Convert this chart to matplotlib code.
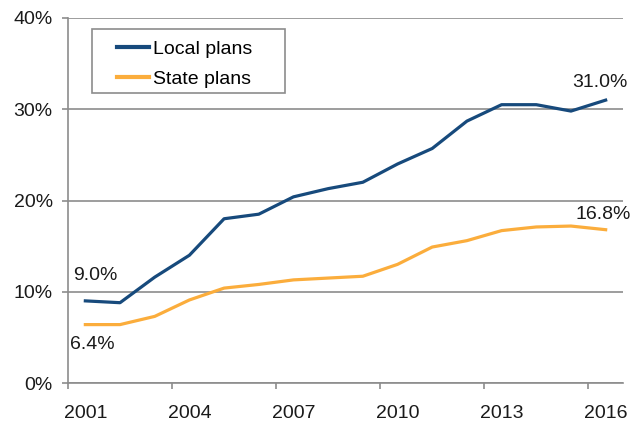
import numpy as np
import matplotlib.pyplot as plt
from matplotlib.patches import Rectangle
from matplotlib.ticker import FixedLocator, NullFormatter

years = list(range(2001, 2017))
local_plans = [9.0, 8.8, 11.6, 14.0, 18.0, 18.5, 20.4, 21.3, 22.0, 24.0, 25.7, 28.7, 30.5, 30.5, 29.8, 31.0]
state_plans = [6.4, 6.4, 7.3, 9.1, 10.4, 10.8, 11.3, 11.5, 11.7, 13.0, 14.9, 15.6, 16.7, 17.1, 17.2, 16.8]
y_ticks = [0, 10, 20, 30, 40]
label_every = 3

blue = '#174a7c'
orange = '#fbad3c'
grid_gray = '#8c8c8c'
text_col = '#1a1a1a'

plt.rcParams['font.family'] = ['Liberation Sans', 'DejaVu Sans']
fs = 14

fig = plt.figure(figsize=(6.44, 4.24), dpi=100)
W, H = 555, 365
ax = fig.add_axes([68/644, 41/424, W/644, H/424])

x = np.arange(len(years))
ax.plot(x, local_plans, color=blue, lw=2.3, label='Local plans')
ax.plot(x, state_plans, color=orange, lw=2.3, label='State plans')

ax.set_xlim(-0.5, len(years) - 0.5)
ax.set_ylim(0, 40)

# category axis: tick marks on boundaries, labels on centres
ax.xaxis.set_major_locator(FixedLocator(np.arange(0, len(years), label_every) - 0.5))
ax.xaxis.set_major_formatter(NullFormatter())
ax.xaxis.set_minor_locator(FixedLocator(np.arange(0, len(years), label_every)))
ax.set_xticklabels([str(y) for y in years[::label_every]], minor=True)
ax.tick_params(axis='x', which='major', length=4.5, width=1.2, color=grid_gray, direction='out')
ax.tick_params(axis='x', which='minor', length=0, pad=16, labelsize=fs, labelcolor=text_col)

ax.set_yticks(y_ticks)
ax.set_yticklabels([f'{v}%' for v in y_ticks])
ax.tick_params(axis='y', length=4.5, width=1.2, color=grid_gray, pad=6.5, labelsize=fs, labelcolor=text_col)
ax.yaxis.grid(True, color=grid_gray, lw=1.2)
ax.set_axisbelow(True)

for side in ['top', 'right']:
    ax.spines[side].set_visible(False)
for side in ['left', 'bottom']:
    ax.spines[side].set_color(grid_gray)
    ax.spines[side].set_linewidth(1.2)

lbl = dict(fontsize=fs, color=text_col, ha='center', va='center', textcoords='offset points')
ax.annotate(f'{local_plans[0]:.1f}%', (x[0], local_plans[0]), xytext=(7, 18.5), **lbl)
ax.annotate(f'{state_plans[0]:.1f}%', (x[0], state_plans[0]), xytext=(5, -14.5), **lbl)
ax.annotate(f'{local_plans[-1]:.1f}%', (x[-1], local_plans[-1]), xytext=(-4, 13), **lbl)
ax.annotate(f'{state_plans[-1]:.1f}%', (x[-1], state_plans[-1]), xytext=(-2, 11), **lbl)

# legend entries without frame, boxed by a separate rectangle
leg = ax.legend(loc='upper left', bbox_to_anchor=(49/W, 1 - 22/H), frameon=False,
                handlelength=31/19, handletextpad=0.2, borderpad=0, borderaxespad=0,
                labelspacing=0.66, fontsize=fs)
for line in leg.get_lines():
    line.set_linewidth(3)
ax.add_patch(Rectangle((24/W, 1 - 75/H), 193/W, 64/H, transform=ax.transAxes,
                       facecolor='white', edgecolor=grid_gray, lw=1.2, zorder=4))
leg.set_zorder(5)

fig.savefig('out.png', dpi=100)
